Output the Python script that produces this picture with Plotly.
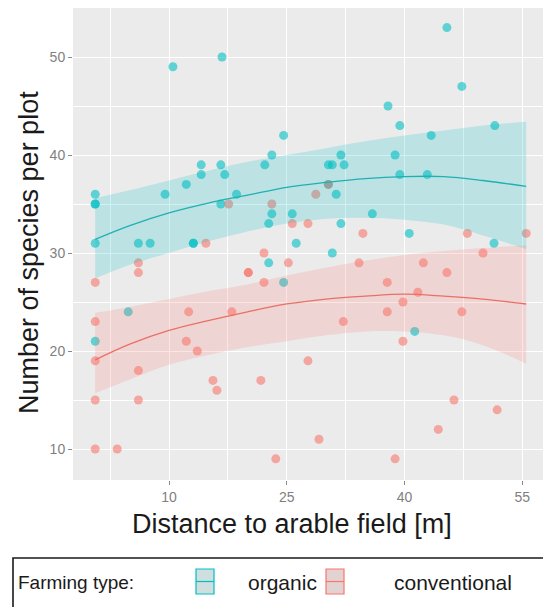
import plotly.graph_objects as go

# ---------------- data ----------------
org_x = [0.6, 0.6, 0.6, 0.6, 0.6, 4.8, 6.1, 7.6, 9.5, 10.5, 12.2, 13.1, 13.1,
         14.1, 14.1, 16.6, 16.6, 16.75, 17.1, 18.6, 22.2, 22.7, 22.7, 23.1, 23.1,
         24.6, 24.6, 25.7, 26.2, 30.3, 30.3, 30.8, 30.8, 31.3, 31.9, 31.9, 32.3,
         35.9, 37.9, 38.8, 39.4, 39.4, 40.6, 41.3, 42.9, 43.4, 45.4, 47.3, 51.4, 51.5]
org_y = [36, 35, 35, 31, 21, 24, 31, 31, 36, 49, 37, 31, 31,
         39, 38, 39, 35, 50, 38, 36, 39, 33, 29, 40, 34,
         42, 27, 34, 31, 39, 37, 39, 30, 36, 40, 33, 39,
         34, 45, 40, 43, 38, 32, 22, 38, 42, 53, 47, 31, 43]

con_x = [0.6, 0.6, 0.6, 0.6, 0.6, 3.4, 6.1, 6.1, 6.1, 6.1, 12.2, 12.5, 13.6,
         14.7, 15.6, 16.1, 17.6, 18.0, 20.1, 20.1, 21.7, 22.1, 22.1, 23.1, 23.6,
         25.2, 25.7, 27.7, 27.7, 28.7, 29.1, 30.3, 32.2, 34.2, 34.7, 37.8, 37.8,
         38.8, 39.8, 39.8, 41.7, 42.4, 44.3, 45.4, 46.3, 47.3, 48.0, 50.0, 51.8, 55.5]
con_y = [27, 23, 19, 15, 10, 10, 29, 28, 18, 15, 21, 24, 20,
         31, 17, 16, 35, 24, 28, 28, 17, 30, 27, 35, 9,
         29, 33, 33, 19, 36, 11, 37, 23, 29, 32, 27, 24,
         9, 25, 21, 26, 29, 12, 28, 15, 24, 32, 30, 14, 32]

# smoother curves
fit_x = [0.6, 5, 10, 15, 20, 25, 30, 35, 40, 45, 50, 55.5]
org_fit = [31.4, 32.8, 34.1, 35.1, 35.9, 36.7, 37.2, 37.6, 37.8, 37.8, 37.4, 36.8]
org_hi = [35.6, 36.4, 37.4, 38.4, 39.3, 40.0, 40.7, 41.4, 42.0, 42.5, 43.0, 43.4]
org_lo = [27.4, 28.8, 30.0, 31.2, 32.2, 33.0, 33.5, 33.6, 33.4, 32.9, 31.8, 30.4]
con_fit = [19.1, 20.7, 22.1, 23.1, 24.0, 24.8, 25.3, 25.6, 25.8, 25.6, 25.3, 24.8]
con_hi = [23.9, 24.5, 25.3, 26.1, 26.8, 27.7, 28.5, 29.2, 29.8, 30.2, 30.5, 30.8]
con_lo = [15.7, 17.1, 18.6, 19.6, 20.4, 21.0, 21.6, 22.0, 22.0, 21.6, 20.6, 18.7]

x_ticks = [10, 25, 40, 55]
y_ticks = [10, 20, 30, 40, 50]

TEAL = "#00BFC4"
RED = "#F8766D"
FONT = "Liberation Sans, Arial, sans-serif"

W, H = 543, 607
ML, MR, MT, MB = 73, 0, 8, 127
PW, PH = W - ML - MR, H - MT - MB


def px(x):
    return (x - ML) / PW


def py(y):
    return (H - MB - y) / PH


fig = go.Figure()

for xs, ys, col in [(org_x, org_y, TEAL), (con_x, con_y, RED)]:
    fig.add_trace(go.Scatter(x=xs, y=ys, mode="markers",
                             marker=dict(color=col, size=9, opacity=0.6, line=dict(width=0)),
                             showlegend=False))

for hi, lo, fillc in [(org_hi, org_lo, "rgba(0,191,196,0.2)"),
                      (con_hi, con_lo, "rgba(248,118,109,0.2)")]:
    fig.add_trace(go.Scatter(x=fit_x, y=lo, mode="lines",
                             line=dict(width=0, shape="spline"), showlegend=False,
                             hoverinfo="skip"))
    fig.add_trace(go.Scatter(x=fit_x, y=hi, mode="lines", fill="tonexty", fillcolor=fillc,
                             line=dict(width=0, shape="spline"), showlegend=False,
                             hoverinfo="skip"))

for fit, col in [(org_fit, "#1fb0b3"), (con_fit, "#ec6f66")]:
    fig.add_trace(go.Scatter(x=fit_x, y=fit, mode="lines",
                             line=dict(color=col, width=1.3, shape="spline"),
                             showlegend=False))

axis_common = dict(showgrid=True, gridcolor="white", gridwidth=1.4, zeroline=False,
                   showline=False, ticks="outside", ticklen=4, tickwidth=1,
                   tickcolor="#8a8a8a",
                   tickfont=dict(family=FONT, size=14, color="#7f7f7f"))

fig.update_xaxes(range=[-2.23, 57.64], tickvals=x_ticks,
                 minor=dict(tickvals=[2.5, 17.5, 32.5, 47.5], showgrid=True,
                            gridcolor="white", gridwidth=0.7, ticks=""),
                 **axis_common)
fig.update_yaxes(range=[6.84, 55.0], tickvals=y_ticks,
                 minor=dict(tickvals=[15, 25, 35, 45, 55], showgrid=True,
                            gridcolor="white", gridwidth=0.7, ticks=""),
                 **axis_common)

annotations = [
    dict(text="Number of species per plot", x=px(29), y=py(253), textangle=-90,
         xanchor="center", yanchor="middle", font=dict(size=27, color="#1a1a1a")),
    dict(text="Distance to arable field [m]", x=px(292), y=py(524),
         xanchor="center", yanchor="middle", font=dict(size=27, color="#1a1a1a")),
    dict(text="Farming type:", x=px(16), y=py(582), xanchor="left", yanchor="middle",
         font=dict(size=19, color="#1a1a1a")),
    dict(text="organic", x=px(246), y=py(582), xanchor="left", yanchor="middle",
         font=dict(size=21, color="#1a1a1a")),
    dict(text="conventional", x=px(392), y=py(582), xanchor="left", yanchor="middle",
         font=dict(size=21, color="#1a1a1a")),
]
for a in annotations:
    a.update(xref="paper", yref="paper", showarrow=False)
    a["font"]["family"] = FONT

shapes = [
    dict(type="rect", x0=px(13), x1=px(575), y0=py(558), y1=py(630),
         line=dict(color="#1a1a1a", width=1.6), fillcolor="rgba(0,0,0,0)"),
]
for x0, col, fill in [(196, TEAL, "#cfdede"), (326, RED, "#e3d2d2")]:
    shapes.append(dict(type="rect", x0=px(x0), x1=px(x0 + 18), y0=py(569), y1=py(594),
                       line=dict(color=col, width=1.2), fillcolor=fill))
    shapes.append(dict(type="line", x0=px(x0), x1=px(x0 + 18), y0=py(581.5), y1=py(581.5),
                       line=dict(color=col, width=1.2)))
for s in shapes:
    s.update(xref="paper", yref="paper", layer="above")

fig.update_layout(width=W, height=H, margin=dict(l=ML, r=MR, t=MT, b=MB),
                  paper_bgcolor="white", plot_bgcolor="#EBEBEB",
                  font=dict(family=FONT), showlegend=False,
                  annotations=annotations, shapes=shapes)

fig.write_html("out.html")
